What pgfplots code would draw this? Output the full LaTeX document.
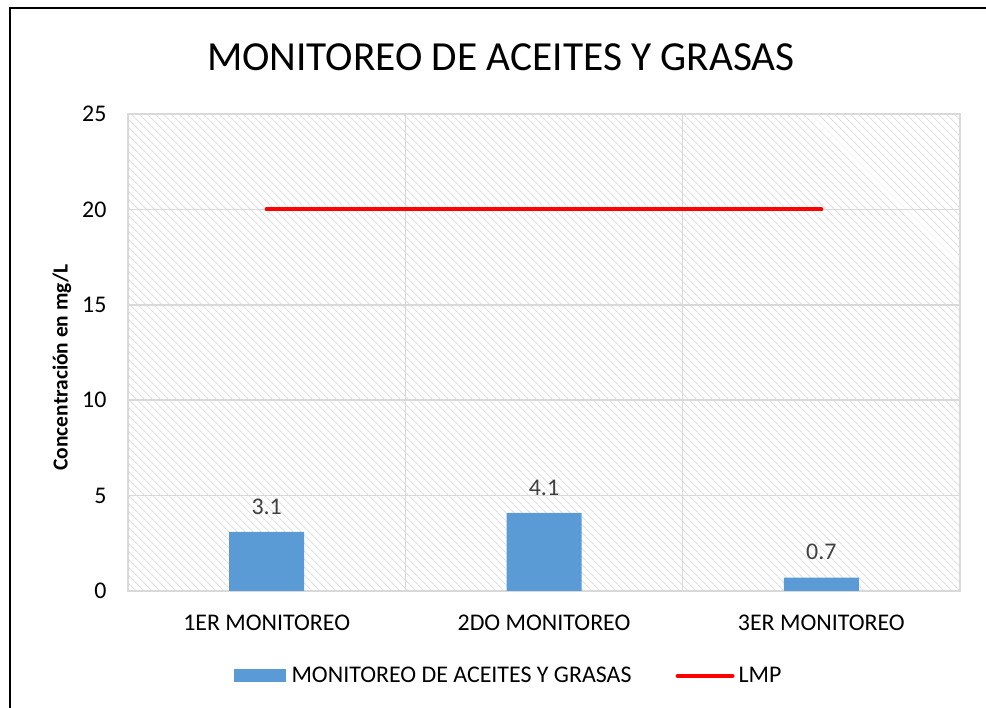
\documentclass[border=0pt]{standalone}
\usepackage{fontspec}
\setmainfont{Carlito}
\usepackage{pgfplots}
\pgfplotsset{compat=1.18}
\usetikzlibrary{patterns.meta}
\definecolor{barblue}{HTML}{5B9BD5}
\definecolor{gridgray}{HTML}{D9D9D9}
\definecolor{hatchgray}{HTML}{DEDEDE}
\definecolor{labelgray}{HTML}{404040}
\begin{document}
\begin{tikzpicture}
\useasboundingbox (0bp,0bp) rectangle (986bp,708bp);
\begin{scope}
\clip (0bp,0bp) rectangle (986bp,708bp);
\draw[line width=2bp] (10bp,-10bp) -- (10bp,700bp) -- (1000bp,700bp);
\end{scope}
\node[font=\fontsize{41.5}{45}\selectfont] at (501bp,651bp) {MONITOREO DE ACEITES Y GRASAS};
\begin{axis}[
  at={(128bp,117bp)}, anchor=south west,
  scale only axis, width=832bp, height=477bp,
  xmin=-0.5, xmax=2.5, ymin=0, ymax=25,
  ytick={0,5,10,15,20,25},
  xtick={0,1,2},
  xticklabels={1ER MONITOREO, 2DO MONITOREO, 3ER MONITOREO},
  extra x ticks={0.5,1.5}, extra x tick labels={},
  extra x tick style={grid=major},
  ymajorgrids,
  grid style={gridgray, line width=1.5bp},
  axis line style={gridgray, line width=1.5bp},
  major tick length=0pt, tick style={draw=none},
  /pgf/number format/assume math mode=true,
  ticklabel style={font=\fontsize{24}{28}\selectfont, text=black},
  yticklabel style={xshift=-18bp},
  xticklabel style={yshift=-20bp},
  every axis y label/.style={at={(axis description cs:-0.0793,0.469)}, rotate=90, anchor=center, font=\bfseries\fontsize{21.5}{24}\selectfont},
  ylabel={Concentración en mg/L},
  axis background/.style={pattern={Lines[angle=-45,distance=6bp,line width=1.4bp]}, pattern color=hatchgray},
  legend columns=2,
  legend style={at={(0.4573,-0.178)}, anchor=center, draw=none, fill=none,
    font=\fontsize{24}{28}\selectfont,
    /tikz/every even column/.append style={column sep=42bp}},
]
\addplot[ybar, bar width=75bp, fill=barblue, draw=none,
  nodes near coords, point meta=explicit symbolic,
  every node near coord/.append style={text=labelgray, font=\fontsize{24}{28}\selectfont, yshift=14bp},
  legend image code/.code={\fill[barblue] (0bp,-6.5bp) rectangle (52bp,6.5bp); \path (56bp,0bp);}]
  coordinates {(0,3.1) [3.1] (1,4.1) [4.1] (2,0.7) [0.7]};
\addlegendentry{MONITOREO DE ACEITES Y GRASAS}
\addplot[red, line width=4bp, mark=none, line cap=round,
  legend image code/.code={\draw[red, line width=4bp, line cap=round] (0bp,0bp) -- (55bp,0bp); \path (57bp,0bp);}]
  coordinates {(0,20) (2,20)};
\addlegendentry{LMP}
\end{axis}
\end{tikzpicture}
\end{document}
